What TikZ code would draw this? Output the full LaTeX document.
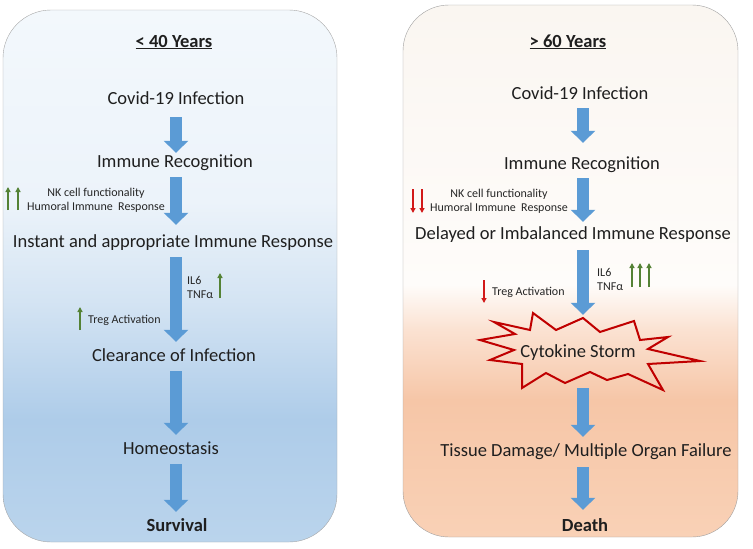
\documentclass[tikz,border=0pt]{standalone}
\usepackage{fontspec}
\setmainfont{Carlito}
\usepackage{tikz}
\usetikzlibrary{arrows.meta}
\definecolor{arrowblue}{RGB}{91,155,213}
\definecolor{upgreen}{RGB}{84,130,53}
\definecolor{downred}{RGB}{210,25,25}
\definecolor{stormred}{RGB}{192,0,0}
\definecolor{youngtop}{RGB}{243,248,252}
\definecolor{younga}{RGB}{236,243,250}
\definecolor{youngb}{RGB}{212,228,243}
\definecolor{youngc}{RGB}{174,204,233}
\definecolor{youngd}{RGB}{186,212,236}
\definecolor{oldtop}{RGB}{250,246,241}
\definecolor{olda}{RGB}{253,250,247}
\definecolor{oldb}{RGB}{254,252,250}
\definecolor{oldc}{RGB}{251,226,210}
\definecolor{oldd}{RGB}{246,198,167}
\definecolor{olde}{RGB}{249,209,182}
\pgfdeclareverticalshading{youngshade}{100bp}{color(0bp)=(youngd); color(25bp)=(youngd); color(36.5bp)=(youngc); color(47.7bp)=(youngb); color(57bp)=(younga); color(75bp)=(youngtop); color(100bp)=(youngtop)}
\pgfdeclareverticalshading{oldshade}{100bp}{color(0bp)=(olde); color(25bp)=(olde); color(37.9bp)=(oldd); color(44.5bp)=(oldc); color(48.7bp)=(oldb); color(56.7bp)=(olda); color(75bp)=(oldtop); color(100bp)=(oldtop)}

\begin{document}
\begin{tikzpicture}[x=1pt, y=-1pt,
	stage/.style={font=\fontsize{18.5}{20}\selectfont, text=black!88, inner sep=0pt, text height=12pt, text depth=4pt},
	heading/.style={stage, font=\fontsize{18.5}{20}\selectfont\bfseries},
	note/.style={font=\fontsize{12}{14}\selectfont, text=black!85, inner sep=0pt, align=center},
	flow/.style={line width=12pt, draw=arrowblue, -{Triangle[width=24pt,length=12pt]}, shorten <=6pt, shorten >=7pt},
	uptick/.style={line width=1.5pt, draw=upgreen, -{Triangle[width=5pt,length=5pt]}},
	downtick/.style={line width=1.5pt, draw=downred, -{Triangle[width=5pt,length=5pt]}},
	burst/.style={draw=stormred, line width=2pt, line join=miter}]
	\useasboundingbox (0,0) rectangle (753,549);

	% panels
	\shade[shading=youngshade, draw=gray!70, rounded corners=48pt] (3,10) rectangle (337,542);
	\shade[shading=oldshade, draw=gray!75, rounded corners=46pt] (403,5) rectangle (738,537);

	% < 40 years
	\node[heading] (headL) at (174,43) {\underline{< 40 Years}};
	\node[stage] (covidL) at (176,100) {Covid-19 Infection};
	\node[stage] (recogL) at (175,163) {Immune Recognition};
	\node[stage] (instantL) at (173,243) {Instant and appropriate Immune Response};
	\node[stage] (clearL) at (174,357) {Clearance of Infection};
	\node[stage] (homeoL) at (171,450) {Homeostasis};
	\node[heading] (survL) at (177,527) {Survival};
	\coordinate (colL) at (176,0);

	\draw[flow, shorten <=9pt, shorten >=2pt] (colL |- covidL.south) -- (colL |- recogL.north);
	\draw[flow, shorten >=10pt] (colL |- recogL.south) -- (colL |- instantL.north);
	\draw[flow] (colL |- instantL.south) -- (colL |- clearL.north);
	\draw[flow] (colL |- clearL.south) -- (colL |- homeoL.north);
	\draw[flow] (colL |- homeoL.south) -- (colL |- survL.north);

	\node[note] (nkL) at (96,200) {NK cell functionality\\Humoral Immune~ Response};
	\node[note, anchor=west, align=left] (cytoL) at (187,287.5) {IL6\\TNFα};
	\node[note, anchor=west] (tregL) at (88,320) {Treg Activation};
	\draw[uptick] (8,210) -- (8,187);	% up
	\draw[uptick] (18,210) -- (18,187);
	\draw[uptick] (220,298) -- (220,273);
	\draw[uptick] (80,330) -- (80,307);

	% > 60 years
	\node[heading] (headR) at (568,43) {\underline{> 60 Years}};
	\node[stage] (covidR) at (580,95) {Covid-19 Infection};
	\node[stage] (recogR) at (582,165) {Immune Recognition};
	\node[stage] (delayR) at (573,235) {Delayed or Imbalanced Immune Response};
	\node[stage, minimum height=72pt] (storm) at (578,353) {Cytokine Storm};
	\node[stage] (tissueR) at (586,452) {Tissue Damage/ Multiple Organ Failure};
	\node[heading] (deathR) at (585,527) {Death};
	\coordinate (colR) at (583,0);

	\draw[burst] (583,318) -- (600,332) -- (634,321) -- (640,340) -- (668,337) -- (648,349)
		-- (700,361) -- (648,364) -- (663,390) -- (628,374) -- (607,380) -- (590,372)
		-- (565,383) -- (546,373) -- (522,388) -- (522,364) -- (490,360) -- (514,350)
		-- (480,340) -- (515,334) -- (494,322) -- (530,330) -- (533,313) -- (556,330) -- cycle;

	\draw[flow, shorten <=5pt, shorten >=14pt] (colR |- covidR.south) -- (colR |- recogR.north);
	\draw[flow, shorten <=5pt, shorten >=5pt] (colR |- recogR.south) -- (colR |- delayR.north);
	\draw[flow, shorten <=7pt, shorten >=2pt] (colR |- delayR.south) -- (colR |- storm.north);
	\draw[flow, shorten <=-1pt] (colR |- storm.south) -- (colR |- tissueR.north);
	\draw[flow, shorten <=7pt, shorten >=9pt] (colR |- tissueR.south) -- (colR |- deathR.north);

	\node[note] (nkR) at (499,201) {NK cell functionality\\Humoral Immune~ Response};
	\node[note, anchor=west, align=left] (cytoR) at (597,279.5) {IL6\\TNFα};
	\node[note, anchor=west] (tregR) at (492,292) {Treg Activation};
	\draw[downtick] (413,189) -- (413,213);	% down
	\draw[downtick] (422,189) -- (422,213);
	\draw[downtick] (484,280) -- (484,303);
	\draw[uptick] (632,287) -- (632,263);
	\draw[uptick] (640,287) -- (640,263);
	\draw[uptick] (649,287) -- (649,263);
\end{tikzpicture}
\end{document}
